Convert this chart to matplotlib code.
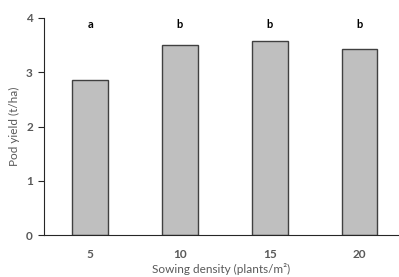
import numpy as np
import matplotlib.pyplot as plt

# datos del grafico
densidad = ['5', '10', '15', '20']
rendimiento = [2.86, 3.51, 3.57, 3.43]
letras = ['a', 'b', 'b', 'b']

plt.rcParams['font.family'] = ['Lato', 'DejaVu Sans']

fig = plt.figure(figsize=(3.99, 2.77), dpi=100)
ax = fig.add_axes([44 / 399, 1 - 235 / 277, 1 - 44 / 399, (235 - 18) / 277])

x = np.arange(len(densidad))
ax.bar(x, rendimiento, width=0.4, color='#bfbfbf', edgecolor='#404040', linewidth=1.0)

for xi, letra in zip(x, letras):
    ax.text(xi, 3.88, letra, ha='center', va='center', fontsize=8, fontweight='bold', color='black')

ax.set_xlim(-0.515, 3.44)
ax.set_ylim(0, 4)
ax.set_yticks([0, 1, 2, 3, 4])
ax.set_xticks(x)
ax.set_xticklabels(densidad)

for lado in ['top', 'right']:
    ax.spines[lado].set_visible(False)
ax.spines['left'].set_color('#262626')
ax.spines['bottom'].set_color('#262626')

ax.tick_params(axis='y', direction='out', length=4, width=0.8, colors='#262626', labelcolor='#595959', labelsize=8.5, pad=4)
ax.tick_params(axis='x', length=0, labelcolor='#595959', labelsize=8.5, pad=10)
for t in ax.get_xticklabels() + ax.get_yticklabels():
    t.set_fontweight('bold')

ax.set_ylabel('Pod yield (t/ha)', fontsize=8.5, color='#595959', labelpad=4)
ax.set_xlabel('Sowing density (plants/m²)', fontsize=8.5, color='#595959', labelpad=2)

fig.savefig('out.png', dpi=100)
